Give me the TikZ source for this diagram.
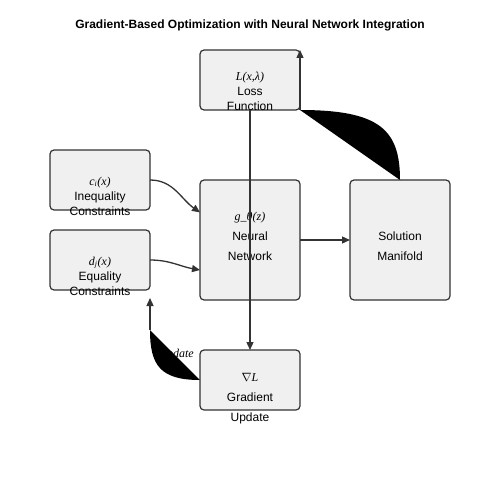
\documentclass[tikz,border=0pt]{standalone}
\usepackage{fontspec}
\setmainfont{Liberation Sans}
\newfontfamily\mathlbl{Liberation Serif}
\usetikzlibrary{calc}
\usetikzlibrary{positioning}
\usetikzlibrary{arrows.meta}
\definecolor{edgegray}{HTML}{333333}
\definecolor{boxfill}{HTML}{F0F0F0}
\newcommand{\fn}[1]{{\mathlbl\itshape #1}}
\tikzset{
  box/.style={draw=edgegray,fill=boxfill,line width=1.2pt,rounded corners=4pt,minimum width=100pt,minimum height=60pt,outer sep=0pt},
  tall/.style={box,minimum height=120pt},
  lbl/.style={align=center,inner sep=0pt,font=\fontsize{12}{15}\selectfont},
  widelbl/.style={align=center,inner sep=0pt,font=\fontsize{12}{20}\selectfont},
  link/.style={draw=edgegray,line width=1.3pt,-{Triangle[length=8pt,width=7pt]}},
}
\begin{document}
\begin{tikzpicture}[x=1pt,y=-1pt]
\useasboundingbox (0,0) rectangle (500,500);

\node[font=\bfseries\fontsize{12}{14}\selectfont] (title) at (250,25) {Gradient-Based Optimization with Neural Network Integration};

\node[tall] (nn) at (250,240) {};
\node[box,above=70pt of nn] (loss) {};
\node[tall,right=50pt of nn] (sol) {};
\node[box,below=50pt of nn] (grad) {};
\node[box] (ineq) at (100,180) {};
\node[box] (eq) at (100,260) {};

\node[lbl] (losst) at ($(loss)+(0,11)$) {\fn{L(x,λ)}\\Loss\\Function};
\node[lbl] (ineqt) at ($(ineq)+(0,16)$) {\fn{c\textsubscript{i}(x)}\\Inequality\\Constraints};
\node[lbl] (eqt) at ($(eq)+(0,16)$) {\fn{d\textsubscript{j}(x)}\\Equality\\Constraints};
\node[widelbl] (nnt) at ($(nn)+(0,-4)$) {\fn{g\_θ(z)}\\Neural\\Network};
\node[widelbl] (solt) at ($(sol)+(0,6)$) {Solution\\Manifold};
\node[widelbl] (gradt) at ($(grad)+(0,19)$) {$\nabla$\fn{L}\\Gradient\\Update};

\draw[link] (ineq.east) to[out=0,in=145] ($(nn.north west)!0.27!(nn.south west)$);
\draw[link] (eq.east) to[out=0,in=170] ($(nn.north west)!0.75!(nn.south west)$);
\draw[link] (nn.east) -- (sol.west);
\draw[link] (loss.south) -- (grad.north);

% manifold back to loss
\fill (loss.south east) .. controls ($(loss.south east)+(80,0)$) and ($(sol.north)+(0,-50)$) .. (sol.north) -- cycle;
\draw[link] (loss.south east) -- (loss.north east);

% update back to constraints
\coordinate (bend) at ($(eq.south east)+(0,40)$);
\node[font=\mathlbl\itshape\fontsize{12}{14}\selectfont] (updt) at (176,355) {Update};
\fill (grad.west) .. controls ($(grad.west)+(-40,0)$) and ($(bend)+(0,35)$) .. (bend) -- cycle;
\draw[link] (bend) -- ($(eq.south east)+(0,8)$);

\end{tikzpicture}
\end{document}
